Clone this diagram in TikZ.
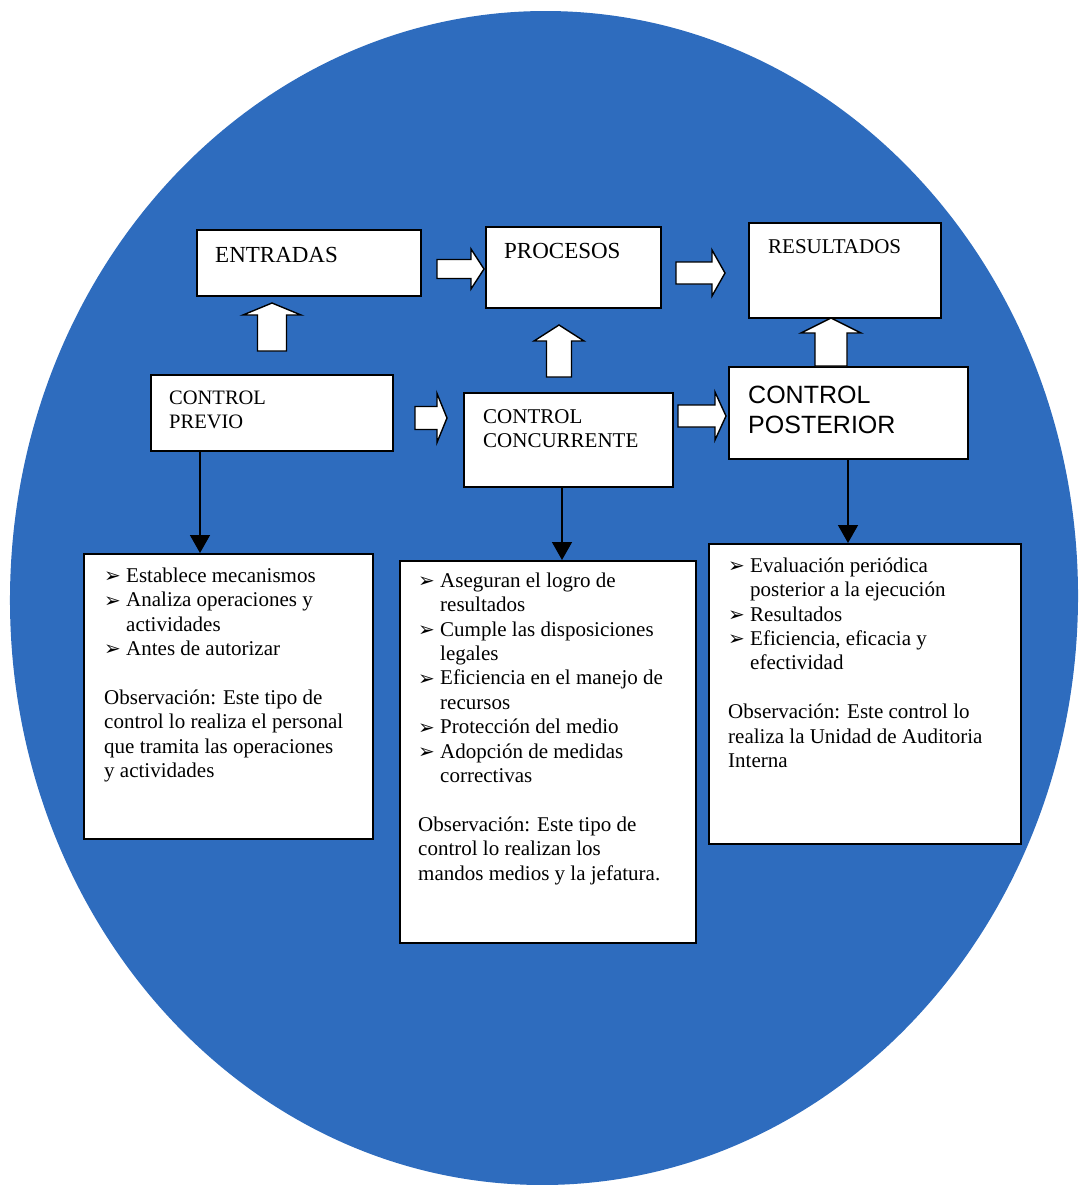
\documentclass[tikz,border=0pt]{standalone}
\usepackage{fontspec}
\setmainfont{Liberation Serif}
\newfontfamily\arialfam{Liberation Sans}
\newfontfamily\dingfam{DejaVu Sans}
\usetikzlibrary{calc,arrows.meta}

\definecolor{diskblue}{RGB}{46,108,190}

% bullet used in the lists
\newcommand\bul{\makebox[22pt][l]{\raisebox{-0.5pt}{\dingfam\fontsize{20}{20}\selectfont ➢}}}
\newcommand\cont{\hspace*{22pt}}
% fixed first-line height, so that a node's north edge lies a known distance above its first baseline
\newcommand\firstline[1]{\rule{0pt}{#1pt}}

% right-pointing block arrow: tail, tip, shaft half width, head half width, head length
\newcommand\rblock[5]{\draw[blk] let \p1=(#1), \p2=(#2) in
  (\x1,\y1+#3pt) -- (\x2-#5pt,\y1+#3pt) -- (\x2-#5pt,\y1+#4pt) -- (\x2,\y1)
  -- (\x2-#5pt,\y1-#4pt) -- (\x2-#5pt,\y1-#3pt) -- (\x1,\y1-#3pt) -- cycle;}
% upward block arrow: tail, tip, shaft half width, head half width, head length
\newcommand\ublock[5]{\draw[blk] let \p1=(#1), \p2=(#2) in
  (\x1-#3pt,\y1) -- (\x1-#3pt,\y2-#5pt) -- (\x1-#4pt,\y2-#5pt) -- (\x1,\y2)
  -- (\x1+#4pt,\y2-#5pt) -- (\x1+#3pt,\y2-#5pt) -- (\x1+#3pt,\y1) -- cycle;}

\tikzset{
  box/.style={draw=black, line width=1.8pt, fill=white, rectangle, inner sep=0pt, anchor=north west},
  body/.style={anchor=north west, inner sep=0pt, align=left, font=\fontsize{21}{24.4}\selectfont},
  hdr/.style={anchor=base west, inner sep=0pt, align=left},
  hdr2/.style={anchor=north west, inner sep=0pt, align=left},
  blk/.style={draw=black, line width=1.4pt, fill=white, line join=miter},
  darr/.style={draw=black, line width=1.5pt, -{Triangle[width=20pt,length=18pt]}},
}

\begin{document}
\begin{tikzpicture}[x=1pt,y=-1pt]
\useasboundingbox (0,0) rectangle (1080,1188);

% background disc
\fill[diskblue, rotate around={-1:(544,598)}] (544,598) ellipse [x radius=534, y radius=587];

% upper row
\node[box, minimum width=224pt, minimum height=66pt] (ent) at (196,229) {};
\node[box, minimum width=175pt, minimum height=81pt] (pro) at (485,226) {};
\node[box, minimum width=192pt, minimum height=95pt] (res) at (748,222) {};

% control row
\node[box, minimum width=242pt, minimum height=76pt] (cpv) at (150,374) {};
\node[box, minimum width=209pt, minimum height=94pt] (ccc) at (463,392) {};
\node[box, minimum width=239pt, minimum height=92pt] (cps) at (728,366) {};

% description boxes
\node[box, minimum width=289pt, minimum height=285pt] (dpv) at (83,553) {};
\node[box, minimum width=296pt, minimum height=382pt] (dcc) at (399,560) {};
\node[box, minimum width=312pt, minimum height=300pt] (dps) at (708,543) {};

% titles
\node[hdr, font=\fontsize{23}{27}\selectfont] (tent) at (215,262) {ENTRADAS};
\node[hdr, font=\fontsize{23}{27}\selectfont] (tpro) at (504,258) {PROCESOS};
\node[hdr, font=\fontsize{21}{25}\selectfont] (tres) at (768,253) {RESULTADOS};
\node[hdr2, font=\fontsize{20.5}{24}\selectfont] (tcpv) at (169,384) {\firstline{20}CONTROL\\PREVIO};
\node[hdr2, font=\fontsize{21}{24}\selectfont] (tccc) at (483,403) {\firstline{20}CONTROL\\CONCURRENTE};
\node[hdr2, font=\arialfam\fontsize{25}{30}\selectfont] (tcps) at (748,381) {\firstline{22}CONTROL\\POSTERIOR};

% lists
\node[body] (lpv) at (104,566) {%
\firstline{16}\bul Establece mecanismos\\
\bul Analiza operaciones y\\
\cont actividades\\
\bul Antes de autorizar\\[24.4pt]
Observación: Este tipo de\\
control lo realiza el personal\\
que tramita las operaciones\\
y actividades};

\node[body] (lcc) at (418,571) {%
\firstline{16}\bul Aseguran el logro de\\
\cont resultados\\
\bul Cumple las disposiciones\\
\cont legales\\
\bul Eficiencia en el manejo de\\
\cont recursos\\
\bul Protección del medio\\
\bul Adopción de medidas\\
\cont correctivas\\[24.4pt]
Observación: Este tipo de\\
control lo realizan los\\
mandos medios y la jefatura.};

\node[body] (lps) at (728,556) {%
\firstline{16}\bul Evaluación periódica\\
\cont posterior a la ejecución\\
\bul Resultados\\
\bul Eficiencia, eficacia y\\
\cont efectividad\\[24.4pt]
Observación: Este control lo\\
realiza la Unidad de Auditoria\\
Interna};

% block arrow ends
\coordinate (a1) at (437,269); \coordinate (b1) at (484,269);
\coordinate (a2) at (676,273); \coordinate (b2) at (725,273);
\coordinate (a3) at (415,418); \coordinate (b3) at (447,418);
\coordinate (a4) at (678,416); \coordinate (b4) at (726,416);
\coordinate (a5) at (272,351); \coordinate (b5) at (272,303);
\coordinate (a6) at (559,377); \coordinate (b6) at (559,325);
\coordinate (a7) at (831,366); \coordinate (b7) at (831,318);

\rblock{a1}{b1}{9.5}{20}{13}
\rblock{a2}{b2}{11}{23}{13}
\rblock{a3}{b3}{11.5}{24.5}{10}
\rblock{a4}{b4}{11}{24}{11}
\ublock{a5}{b5}{14.5}{29}{12}
\ublock{a6}{b6}{12.5}{25}{16}
\ublock{a7}{b7}{16}{30}{15}

% controls to their descriptions
\draw[darr] ([xshift=50pt]cpv.south west) -- ([xshift=50pt]cpv.south west |- dpv.north);
\draw[darr] ([xshift=99pt]ccc.south west) -- ([xshift=99pt]ccc.south west |- dcc.north);
\draw[darr] ([xshift=120pt]cps.south west) -- ([xshift=120pt]cps.south west |- dps.north);
\end{tikzpicture}
\end{document}
